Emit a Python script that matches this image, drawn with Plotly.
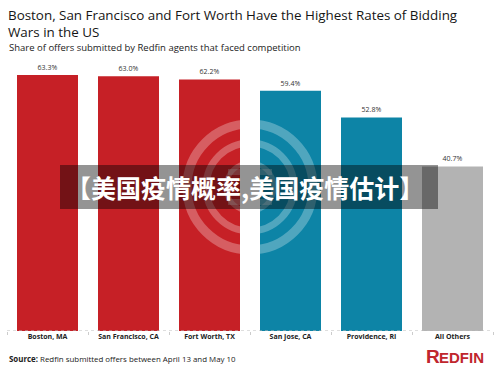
import plotly.graph_objects as go

categories = ["Boston, MA", "San Francisco, CA", "Fort Worth, TX", "San Jose, CA", "Providence, RI", "All Others"]
values = [63.3, 63.0, 62.2, 59.4, 52.8, 40.7]
bar_colors = ["#C62026", "#C62026", "#C62026", "#0D84A6", "#0D84A6", "#B3B3B3"]
value_labels = [f"{v:.1f}%" for v in values]
title_text = "Boston, San Francisco and Fort Worth Have the Highest Rates of Bidding<br>Wars in the US"
subtitle = "Share of offers submitted by Redfin agents that faced competition"
source = "<b>Source:</b> Redfin submitted offers between April 13 and May 10"
overlay_text = "【美国疫情概率,美国疫情估计】"

W, H = 500, 375
L, R, T, B = 7, 7, 60, 44
PW, PH = W - L - R, H - T - B


def px(x):
    return (x - L) / PW


def py(y):
    return (H - B - y) / PH


fig = go.Figure(go.Bar(
    x=categories, y=values, marker_color=bar_colors, marker_line_width=0,
    text=value_labels, textposition="outside", cliponaxis=False,
    textfont=dict(family="Open Sans", size=7, color="#333333"),
    hoverinfo="skip",
))

shapes = []
shapes.append(dict(type="line", xref="paper", yref="y", x0=0, x1=1, y0=0, y1=0,
                   line=dict(color="#BDBDBD", width=1, dash="dot")))

cx, cy = 250, 187
wm = "rgba(255,255,255,0.28)"
for r, w in [(63, 9), (44, 7)]:
    shapes.append(dict(type="circle", xref="paper", yref="paper",
                       x0=px(cx - r), x1=px(cx + r), y0=py(cy + r), y1=py(cy - r),
                       line=dict(color=wm, width=w), fillcolor="rgba(0,0,0,0)", layer="above"))
for yy, x0, x1 in [(172, 228, 272), (202, 228, 272)]:
    shapes.append(dict(type="line", xref="paper", yref="paper", x0=px(x0), x1=px(x1),
                       y0=py(yy), y1=py(yy), line=dict(color=wm, width=6), layer="above"))
shapes.append(dict(type="circle", xref="paper", yref="paper",
                   x0=px(cx - 24), x1=px(cx + 24), y0=py(cy + 24), y1=py(cy - 24),
                   line=dict(color=wm, width=5), fillcolor="rgba(0,0,0,0)", layer="above"))

shapes.append(dict(type="rect", xref="paper", yref="paper",
                   x0=px(60), x1=px(438), y0=py(209), y1=py(165),
                   fillcolor="rgba(0,0,0,0.42)", line=dict(width=0), layer="above"))

annotations = [
    dict(text=title_text, xref="paper", yref="paper", x=px(7), y=py(5),
         xanchor="left", yanchor="top", align="left", showarrow=False,
         font=dict(family="Open Sans", size=13.4, color="#151515")),
    dict(text=subtitle, xref="paper", yref="paper", x=px(8), y=py(47), xanchor="left", yanchor="middle",
         showarrow=False, font=dict(family="Open Sans", size=9.5, color="#222222")),
    dict(text=source, xref="paper", yref="paper", x=px(8), y=py(359), xanchor="left", yanchor="middle",
         showarrow=False, font=dict(family="Open Sans", size=7.9, color="#222222")),
    dict(text="<b>R</b>", xref="paper", yref="paper", x=px(425), y=py(368), xanchor="left",
         yanchor="bottom", showarrow=False, font=dict(family="Liberation Sans", size=19, color="#C0262D")),
    dict(text="<b>EDFIN</b>", xref="paper", yref="paper", x=px(438), y=py(367), xanchor="left",
         yanchor="bottom", showarrow=False, font=dict(family="Liberation Sans", size=15, color="#C0262D")),
    dict(text="<b>" + overlay_text + "</b>", xref="paper", yref="paper",
         x=px(245), y=py(187), xanchor="center", yanchor="middle", showarrow=False,
         font=dict(family="Noto Sans CJK SC", size=25, color="#FFFFFF")),
]

fig.update_layout(
    width=W, height=H, margin=dict(l=L, r=R, t=T, b=B, autoexpand=False),
    paper_bgcolor="white", plot_bgcolor="white",
    bargap=0.247, showlegend=False,
    shapes=shapes, annotations=annotations,
    xaxis=dict(showgrid=False, showline=False, zeroline=False, automargin=False,
               tickson="boundaries", ticks="outside", ticklen=3, tickcolor="#CCCCCC",
               tickfont=dict(family="Open Sans", size=7, color="#222222"),
               tickprefix="<b>", ticksuffix="</b>"),
    yaxis=dict(range=[0, 67], visible=False, showgrid=False, zeroline=False, automargin=False),
)
fig.update_annotations(borderpad=0)

fig.write_html("out.html", config={"displayModeBar": False},
               post_script="document.body.style.margin='0px';document.body.style.overflow='hidden';")
